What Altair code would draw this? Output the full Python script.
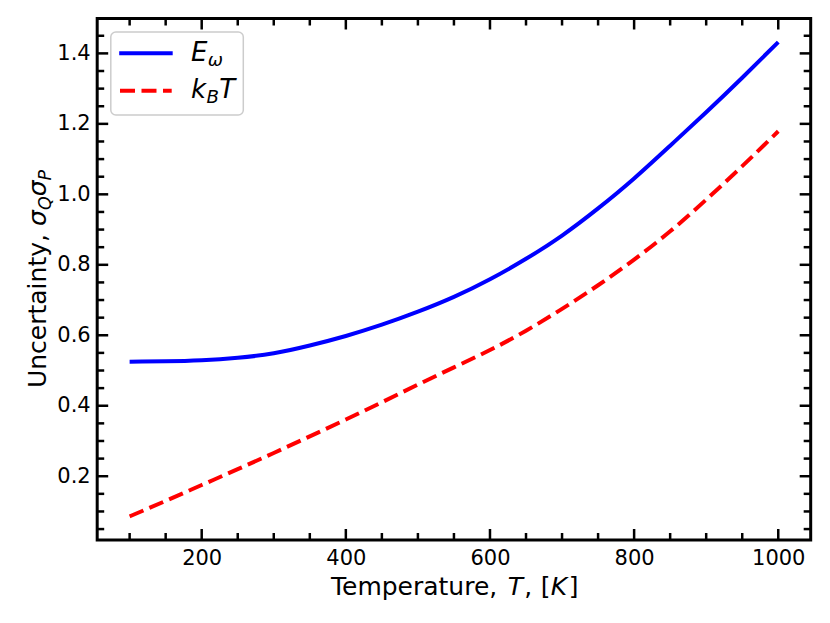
import altair as alt
import pandas as pd

# ---- data ----
temps = [100, 150, 200, 250, 300, 350, 400, 450, 500, 550, 600, 650, 700, 750, 800, 850, 900, 950, 1000]
e_omega = [0.525, 0.526, 0.529, 0.536, 0.549, 0.571, 0.598, 0.630, 0.667, 0.709, 0.759, 0.817, 0.883, 0.960,
           1.045, 1.138, 1.233, 1.331, 1.432]
kb_t = [0.086, 0.130, 0.175, 0.220, 0.266, 0.313, 0.361, 0.410, 0.460, 0.509, 0.558, 0.613, 0.675, 0.742,
        0.815, 0.895, 0.985, 1.080, 1.179]

x_major = [200, 400, 600, 800, 1000]
x_minor = [100, 150, 250, 300, 350, 450, 500, 550, 650, 700, 750, 850, 900, 950]
y_major = [0.2, 0.4, 0.6, 0.8, 1.0, 1.2, 1.4]
y_minor = [0.05, 0.1, 0.15, 0.25, 0.3, 0.35, 0.45, 0.5, 0.55, 0.65, 0.7, 0.75, 0.85, 0.9, 0.95,
           1.05, 1.1, 1.15, 1.25, 1.3, 1.35, 1.45]

W, H = 713.5, 521.5
FONT = "DejaVu Sans"
MAJ, MIN = 11, 7
TS = 25      # title font size
SUB = 17.5   # subscript font size

xs = alt.Scale(domain=[55, 1045], nice=False, zero=False)
ys = alt.Scale(domain=[0.019, 1.499], nice=False, zero=False)

x_axis = alt.Axis(values=x_major, format="d", ticks=False, tickSize=0, domain=False, grid=False,
                  labelFontSize=21, labelFont=FONT, labelColor="black", labelPadding=8,
                  labelFlush=False, title=None)
y_axis = alt.Axis(values=y_major, format=".1f", ticks=False, tickSize=0, domain=False, grid=False,
                  labelFontSize=21, labelFont=FONT, labelColor="black", labelPadding=7,
                  labelFlush=False, title=None)

df_e = pd.DataFrame({"T": temps, "v": e_omega})
df_k = pd.DataFrame({"T": temps, "v": kb_t})
one = pd.DataFrame({"a": [0]})

line_e = alt.Chart(df_e).mark_line(color="#0000ff", strokeWidth=4, interpolate="natural").encode(
    x=alt.X("T:Q", scale=xs, axis=x_axis), y=alt.Y("v:Q", scale=ys, axis=y_axis))
line_k = alt.Chart(df_k).mark_line(color="#ff0000", strokeWidth=4, strokeDash=[15, 6.5],
                                   interpolate="natural").encode(
    x=alt.X("T:Q", scale=xs, axis=x_axis), y=alt.Y("v:Q", scale=ys, axis=y_axis))

def xticks(vals, length):
    d = pd.DataFrame({"T": vals})
    bottom = alt.Chart(d).mark_rule(color="black", strokeWidth=2.5).encode(
        x=alt.X("T:Q", scale=xs, axis=x_axis), y=alt.value(H), y2=alt.value(H - length))
    top = alt.Chart(d).mark_rule(color="black", strokeWidth=2.5).encode(
        x=alt.X("T:Q", scale=xs, axis=x_axis), y=alt.value(0), y2=alt.value(length))
    return [bottom, top]

def yticks(vals, length):
    d = pd.DataFrame({"v": vals})
    left = alt.Chart(d).mark_rule(color="black", strokeWidth=2.5).encode(
        y=alt.Y("v:Q", scale=ys, axis=y_axis), x=alt.value(0), x2=alt.value(length))
    right = alt.Chart(d).mark_rule(color="black", strokeWidth=2.5).encode(
        y=alt.Y("v:Q", scale=ys, axis=y_axis), x=alt.value(W), x2=alt.value(W - length))
    return [left, right]

def txt(s, x, y, size=TS, italic=False, angle=0):
    kw = dict(text=s, font=FONT, fontSize=size, color="black", align="left", baseline="alphabetic")
    if italic:
        kw["fontStyle"] = "italic"
    if angle:
        kw["angle"] = angle
    return alt.Chart(one).mark_text(**kw).encode(x=alt.value(x), y=alt.value(y))

# x title: Temperature, T, [K]
xb = 576.5
xt = [
    txt("Temperature,", 233.8, xb),
    txt("T", 410.5, xb, italic=True),
    txt(",", 427.0, xb),
    txt("[", 443.5, xb),
    txt("K", 453.5, xb, italic=True),
    txt("]", 471.5, xb),
]

# y title: Uncertainty, sigma_Q sigma_P  (rotated)
yx = -51.5
yt = [
    txt("Uncertainty,", yx, 369.5, angle=270),
    txt("σ", yx, 207.5, italic=True, angle=270),
    txt("Q", yx + 5, 191.6, size=SUB, italic=True, angle=270),
    txt("σ", yx, 177.8, italic=True, angle=270),
    txt("P", yx + 5, 161.9, size=SUB, italic=True, angle=270),
]

# legend
box = alt.Chart(one).mark_rect(fill="white", fillOpacity=0.8, stroke="#cccccc", strokeWidth=1.5,
                               cornerRadius=5).encode(
    x=alt.value(13.6), x2=alt.value(146.1), y=alt.value(13.6), y2=alt.value(96.5))
h_e = alt.Chart(one).mark_rule(color="#0000ff", strokeWidth=4).encode(
    x=alt.value(22.0), x2=alt.value(75.5), y=alt.value(34.8))
h_k = alt.Chart(one).mark_rule(color="#ff0000", strokeWidth=4, strokeDash=[15, 6.5]).encode(
    x=alt.value(22.8), x2=alt.value(74.5), y=alt.value(72.2))
lt = [
    txt("E", 93.8, 42.5, size=26, italic=True),
    txt("ω", 110.5, 47.5, size=18.2, italic=True),
    txt("k", 93.8, 79.5, size=26, italic=True),
    txt("B", 109.2, 84.5, size=18.2, italic=True),
    txt("T", 122.0, 79.5, size=26, italic=True),
]

layers = [line_e, line_k] + xticks(x_major, MAJ) + xticks(x_minor, MIN) + yticks(y_major, MAJ) + \
    yticks(y_minor, MIN) + [box, h_e, h_k] + lt + xt + yt

chart = alt.layer(*layers).properties(
    width=W, height=H,
    padding={"left": 89.2, "top": 10.5, "right": 10, "bottom": 70},
    autosize=alt.AutoSizeParams(type="none"),
    background="white",
).configure_view(stroke="black", strokeWidth=3)

chart.save("out.html", embed_options={"renderer": "svg", "actions": False})
